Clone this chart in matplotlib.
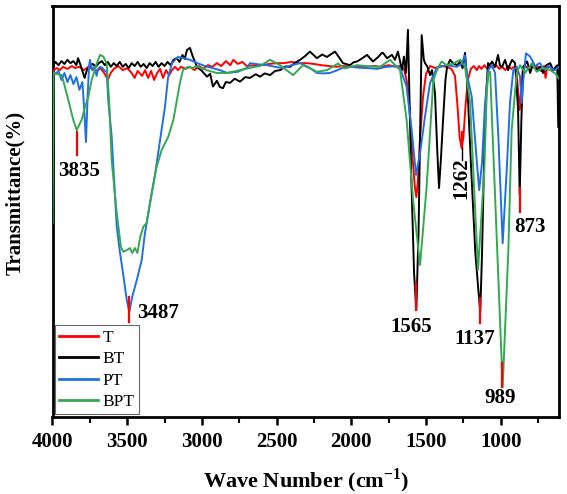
import matplotlib
matplotlib.use("Agg")
import matplotlib.pyplot as plt
from matplotlib.ticker import MultipleLocator

# ---------------- data (wavenumber cm-1, transmittance %) ----------------
t_wn = [3997, 3970, 3950, 3930, 3900, 3870, 3850, 3820, 3790, 3760, 3730, 3700, 3680, 3650, 3630,
        3610, 3590, 3560, 3530, 3500, 3470, 3450, 3430, 3400, 3380, 3360, 3340, 3320, 3300, 3280,
        3260, 3240, 3220, 3200, 3180, 3160, 3140, 3110, 3080, 3050, 3020, 2990, 2960, 2930, 2900,
        2870, 2840, 2810, 2790, 2760, 2730, 2700, 2650, 2600, 2550, 2500, 2450, 2400, 2350, 2300,
        2250, 2200, 2150, 2100, 2050, 2000, 1950, 1900, 1850, 1800, 1750, 1700, 1674, 1650, 1630,
        1610, 1590, 1575, 1565, 1555, 1540, 1520, 1500, 1473, 1440, 1400, 1360, 1330, 1306, 1290,
        1275, 1262, 1250, 1235, 1220, 1200, 1180, 1160, 1145, 1130, 1110, 1090, 1070, 1050, 1030,
        1010, 990, 970, 950, 930, 910, 895, 885, 873, 862, 852, 835, 815, 795, 775, 755, 730, 710,
        700, 690, 670, 650, 630, 612]
t_val = [84.2, 84.9, 84.4, 85.2, 84.7, 85.4, 84.9, 85.2, 84.4, 85.2, 84.7, 84.2, 84.9, 83.5, 82.0,
         83.7, 84.7, 85.4, 84.4, 84.9, 83.7, 82.5, 84.2, 83.0, 84.4, 82.5, 84.2, 82.0, 83.7, 84.7,
         82.5, 84.4, 83.2, 84.4, 85.2, 84.4, 85.2, 84.7, 85.2, 84.4, 85.4, 84.7, 85.6, 85.2, 86.1,
         85.4, 86.6, 85.6, 86.9, 85.9, 86.4, 85.4, 85.6, 85.6, 85.9, 86.1, 86.1, 86.4, 86.1, 86.1,
         85.9, 85.6, 85.4, 85.2, 85.4, 85.2, 85.4, 85.2, 85.4, 85.2, 85.6, 85.2, 85.4, 84.9, 82.0,
         75.0, 63.0, 56.0, 53.5, 57.0, 68.0, 78.0, 83.5, 85.4, 84.9, 85.4, 85.2, 84.7, 83.0, 76.0,
         68.0, 65.5, 68.0, 76.0, 82.0, 84.7, 85.4, 84.4, 85.4, 84.7, 85.6, 84.7, 85.4, 84.9, 85.6,
         84.7, 85.2, 84.4, 85.4, 84.7, 85.2, 84.4, 80.0, 74.7, 80.0, 84.9, 85.4, 84.7, 85.6, 84.9, 85.4, 84.2, 85.4,
         82.5, 84.9, 85.2, 84.4, 85.2, 84.7]

bt_wn = [3997, 3980, 3960, 3940, 3920, 3900, 3880, 3860, 3840, 3829, 3815, 3800, 3785, 3770, 3750,
         3730, 3710, 3690, 3670, 3650, 3630, 3610, 3590, 3570, 3550, 3530, 3510, 3490, 3470, 3450,
         3430, 3410, 3390, 3370, 3350, 3330, 3310, 3290, 3270, 3250, 3230, 3210, 3190, 3170, 3150,
         3130, 3115, 3100, 3080, 3060, 3033, 3000, 2966, 2945, 2926, 2900, 2880, 2859, 2840, 2812,
         2780, 2745, 2710, 2678, 2640, 2611, 2580, 2544, 2510, 2477, 2440, 2410, 2375, 2343, 2310,
         2277, 2250, 2230, 2195, 2163, 2135, 2109, 2080, 2056, 2009, 1985, 1962, 1930, 1895, 1855,
         1820, 1795, 1788, 1761, 1728, 1708, 1688, 1661, 1648, 1634, 1621, 1600, 1580, 1565, 1550,
         1535, 1529, 1515, 1507, 1493, 1473, 1460, 1440, 1425, 1413, 1400, 1386, 1370, 1359, 1339,
         1319, 1292, 1272, 1255, 1239, 1225, 1200, 1170, 1150, 1137, 1125, 1110, 1095, 1085, 1072,
         1058, 1038, 1018, 1005, 991, 971, 951, 938, 924, 904, 884, 873, 862, 850, 823, 803, 783, 756,
         737, 716, 695, 669, 649, 630, 622, 615]
bt_val = [85.4, 86.4, 85.6, 86.6, 85.9, 86.9, 86.1, 86.6, 85.6, 87.3, 85.9, 84.2, 82.5, 84.4, 85.4,
          85.9, 85.2, 86.1, 86.6, 85.6, 86.4, 85.2, 86.1, 85.4, 86.4, 85.2, 85.9, 84.9, 86.1, 85.4,
          86.4, 85.2, 85.9, 84.9, 86.1, 85.4, 86.4, 85.2, 86.1, 85.4, 86.4, 85.6, 86.9, 87.3, 86.4,
          88.1, 87.1, 89.3, 89.8, 87.6, 85.2, 84.2, 82.8, 83.5, 80.4, 81.8, 80.3, 80.0, 81.5, 81.3,
          82.3, 81.6, 82.7, 82.5, 83.4, 82.8, 83.6, 83.2, 84.2, 84.4, 85.3, 85.2, 86.2, 86.9, 87.8,
          88.9, 88.0, 87.3, 88.2, 87.6, 88.3, 88.9, 87.4, 86.1, 85.6, 86.3, 86.5, 87.2, 88.1, 86.5,
          87.6, 88.6, 88.6, 87.3, 88.1, 86.9, 88.9, 84.4, 87.7, 83.7, 94.2, 60.0, 35.0, 26.0, 45.0,
          80.0, 92.9, 87.0, 86.1, 85.4, 83.2, 84.4, 78.8, 65.0, 55.7, 63.0, 72.3, 82.0, 85.2, 86.9,
          86.1, 85.6, 86.4, 84.9, 88.6, 82.0, 62.0, 40.0, 31.0, 25.5, 40.0, 65.0, 80.0, 86.1, 85.6,
          86.5, 85.2, 88.1, 85.5, 85.2, 86.9, 84.4, 85.8, 86.9, 86.1, 75.0, 54.0, 72.0, 85.2, 86.5,
          83.7, 86.1, 84.4, 85.2, 83.7, 85.6, 86.1, 84.4, 85.2, 85.6, 70.6]

pt_wn = [3997, 3980, 3960, 3940, 3920, 3900, 3880, 3860, 3840, 3820, 3800, 3790, 3776, 3765, 3755,
         3749, 3735, 3720, 3705, 3695, 3680, 3665, 3650, 3637, 3627, 3604, 3570, 3548, 3528, 3503,
         3486, 3466, 3436, 3403, 3381, 3347, 3314, 3280, 3247, 3227, 3200, 3160, 3120, 3080, 3030,
         2980, 2930, 2880, 2830, 2760, 2700, 2678, 2620, 2565, 2510, 2457, 2400, 2343, 2280, 2230,
         2190, 2143, 2100, 2060, 2009, 1950, 1900, 1860, 1828, 1790, 1760, 1730, 1700, 1674, 1630,
         1596, 1567, 1540, 1507, 1473, 1429, 1395, 1362, 1330, 1295, 1260, 1240, 1228, 1194, 1161,
         1144, 1125, 1105, 1083, 1060, 1038, 1016, 987, 960, 938, 916, 893, 871, 860, 849, 831, 804,
         785, 771, 755, 737, 720, 704, 685, 670, 652, 637, 620, 610]
pt_val = [83.9, 83.5, 84.2, 82.0, 83.7, 81.5, 83.2, 81.0, 82.7, 79.6, 81.5, 76.0, 66.9, 78.0, 85.6,
          86.9, 84.4, 85.2, 83.0, 84.7, 85.2, 84.9, 84.2, 84.0, 77.1, 68.2, 46.3, 39.9, 35.0, 28.5,
          25.5, 29.3, 33.3, 38.2, 44.8, 52.1, 58.9, 67.4, 75.5, 82.5, 86.1, 87.6, 87.3, 86.9, 86.1,
          85.4, 84.9, 84.4, 83.7, 84.0, 84.9, 86.1, 85.8, 85.6, 85.2, 84.9, 85.6, 86.1, 85.0, 83.7,
          83.6, 83.7, 84.3, 84.9, 85.2, 85.0, 84.9, 84.8, 84.7, 85.0, 85.2, 85.3, 85.4, 84.9, 80.4,
          69.8, 58.9, 64.2, 73.1, 81.3, 84.9, 85.3, 85.6, 85.4, 85.2, 86.0, 88.0, 83.7, 77.9, 62.5,
          55.2, 62.0, 76.4, 84.4, 85.6, 83.7, 68.2, 42.3, 60.1, 76.4, 84.4, 85.2, 82.8, 76.4, 82.0,
          88.5, 87.7, 86.5, 85.2, 85.8, 86.1, 85.0, 84.4, 85.5, 85.2, 84.6, 84.4, 85.0, 85.2]

bpt_wn = [3999, 3994, 3983, 3938, 3894, 3861, 3838, 3805, 3782, 3760, 3738, 3704, 3682, 3660, 3637,
          3620, 3604, 3570, 3542, 3526, 3503, 3481, 3466, 3448, 3432, 3414, 3392, 3370, 3336, 3303,
          3269, 3225, 3191, 3147, 3127, 3093, 3068, 3035, 2968, 2901, 2834, 2745, 2658, 2611, 2544,
          2477, 2390, 2323, 2230, 2163, 2089, 2042, 1962, 1880, 1808, 1741, 1674, 1630, 1585, 1540,
          1496, 1451, 1418, 1395, 1362, 1318, 1272, 1239, 1205, 1152, 1110, 1094, 1083, 1071, 987,
          949, 927, 893, 871, 837, 793, 759, 720, 670, 635, 612]
bpt_val = [47.2, 83.6, 83.6, 83.2, 77.1, 72.3, 69.8, 72.3, 75.5, 77.9, 82.0, 86.0, 88.1, 87.7, 86.0,
           76.3, 62.5, 49.6, 41.4, 40.2, 40.6, 41.1, 39.9, 41.1, 39.9, 43.6, 46.3, 47.2, 54.5, 60.9,
           65.0, 68.2, 72.3, 81.3, 84.4, 85.2, 84.9, 85.3, 84.4, 83.7, 83.7, 84.4, 85.1, 85.4, 86.9,
           85.6, 83.2, 85.6, 84.0, 84.4, 86.0, 84.8, 85.6, 85.3, 85.2, 86.9, 84.4, 72.3, 52.1, 37.0,
           56.0, 82.0, 85.2, 86.5, 85.6, 86.0, 86.9, 85.2, 76.4, 35.8, 60.0, 78.8, 83.7, 84.0, 7.3,
           40.6, 69.8, 83.7, 85.6, 83.7, 86.0, 84.0, 85.0, 84.4, 83.6, 82.4]

series_names = ["T", "BT", "PT", "BPT"]
series_colors = ["#ff0000", "#000000", "#1f6fe5", "#35a852"]

# peak labels: (wavenumber, marker top, marker bottom)
peak_wn = [3835, 3487, 1565, 1137, 989, 873, 1262]
peak_top = [69.4, 29.2, 32.6, 29.0, 13.2, 55.7, 69.4]
peak_bot = [63.7, 23.1, 26.0, 22.9, 7.4, 49.9, 65.5]
peak_text = ["3835", "3487", "1565", "1137", "989", "873", "1262"]
label_wn = [3823, 3434, 1601, 1172, 1002, 801, 1261]
label_y = [59.9, 25.4, 21.9, 19.0, 4.6, 46.2, 58.0]

# ---------------- figure ----------------
serif = ["Liberation Serif", "DejaVu Serif"]
plt.rcParams["font.family"] = serif
plt.rcParams["mathtext.fontset"] = "custom"
plt.rcParams["mathtext.rm"] = "Liberation Serif"
plt.rcParams["mathtext.bf"] = "Liberation Serif:bold"

fig = plt.figure(figsize=(5.67, 4.94), dpi=100)
ax = fig.add_axes([52.5 / 567, 1 - 417 / 494, (559 - 52.5) / 567, (417 - 6) / 494])

data = [(t_wn, t_val), (bt_wn, bt_val), (pt_wn, pt_val), (bpt_wn, bpt_val)]
for (x, y), name, c in zip(data, series_names, series_colors):
    ax.plot(x, y, color=c, lw=1.4, label=name, zorder=3)

for i, w in enumerate(peak_wn):
    ax.plot([w, w], [peak_bot[i], peak_top[i]], color="#ff0000", lw=1.6, zorder=5)
# leader for 1262
ax.plot([1262, 1262], [65.5, 62.5], color="black", lw=1.0, zorder=5)

for i, s in enumerate(peak_text):
    if s == "1262":
        ax.text(label_wn[i], label_y[i], s, rotation=90, ha="center", va="center",
                fontsize=15, fontweight="bold")
    elif s == "3487":
        ax.text(label_wn[i], label_y[i], s, ha="left", va="center",
                fontsize=15, fontweight="bold")
    else:
        ax.text(label_wn[i], label_y[i], s, ha="center", va="center",
                fontsize=15, fontweight="bold")

ax.set_xlim(4000, 610)
ax.set_ylim(0, 100)
ax.xaxis.set_major_locator(MultipleLocator(500))
ax.xaxis.set_minor_locator(MultipleLocator(250))
ax.set_yticks([])
ax.tick_params(axis="x", which="major", direction="out", length=6, width=1.8,
               labelsize=15, pad=5)
ax.tick_params(axis="x", which="minor", direction="out", length=4, width=1.5)
for lab in ax.get_xticklabels():
    lab.set_fontweight("bold")
for sp in ax.spines.values():
    sp.set_linewidth(2.0)

ax.set_xlabel("Wave Number (cm$^{\\mathbf{-1}}$)", fontsize=16, fontweight="bold", va="center")
ax.xaxis.set_label_coords(0.5, -0.156)
ax.set_ylabel("Transmittance(%)", fontsize=15, fontweight="bold", va="center")
ax.yaxis.set_label_coords(-0.074, 0.544)

leg = ax.legend(loc="lower left", bbox_to_anchor=(0.0, 0.0), borderaxespad=0.15,
                fontsize=12.5, frameon=True, fancybox=False, handlelength=2.2,
                handletextpad=0.3, labelspacing=0.3, borderpad=0.25)
leg.set_zorder(6)
leg.get_frame().set_edgecolor("#444444")
leg.get_frame().set_linewidth(0.8)
for line in leg.get_lines():
    line.set_linewidth(2.0)

fig.savefig("out.png", dpi=100)
